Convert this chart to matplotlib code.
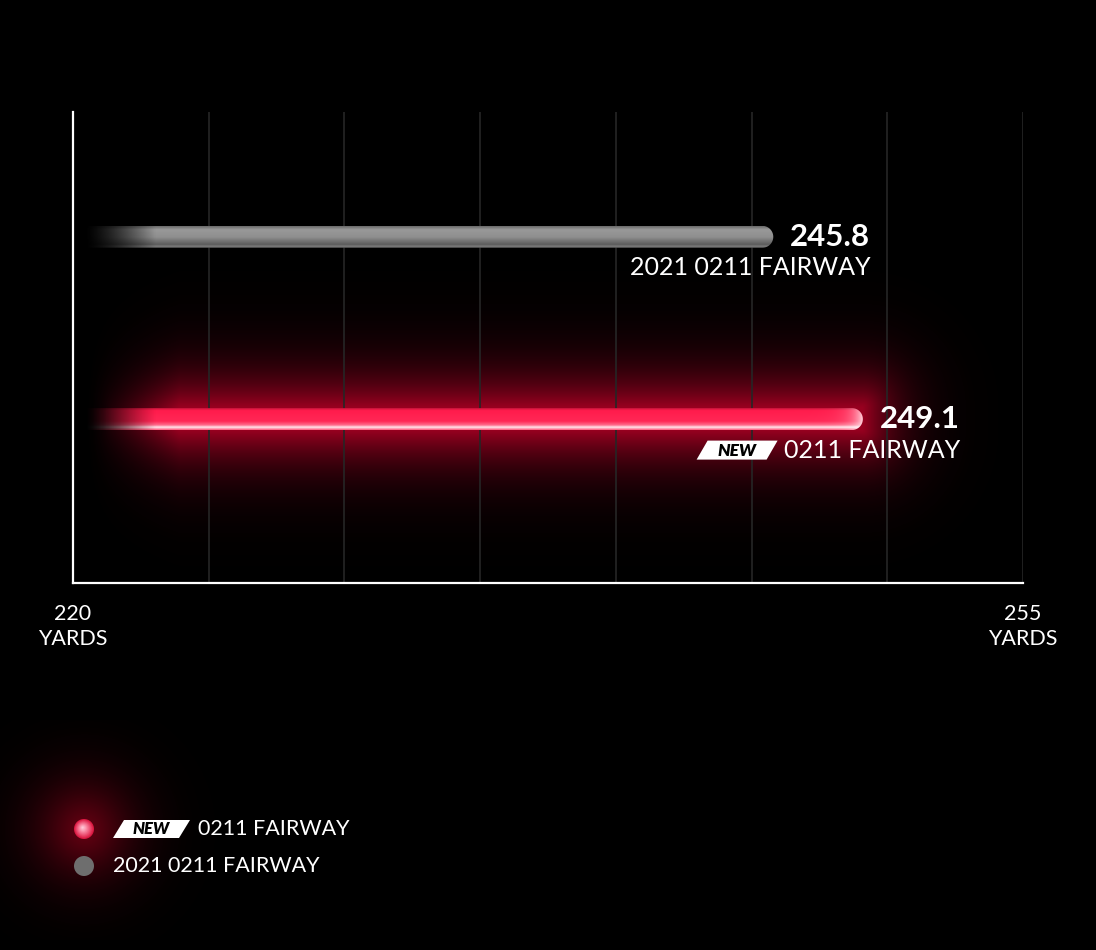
import numpy as np
import matplotlib
matplotlib.use('Agg')
import matplotlib.pyplot as plt
from matplotlib.path import Path
from matplotlib.patches import PathPatch, Polygon, Circle

plt.rcParams['font.family'] = ['Lato', 'DejaVu Sans']

# data
names = ['2021 0211 FAIRWAY', '0211 FAIRWAY']
is_new = [False, True]
values = [245.8, 249.1]
value_labels = ['245.8', '249.1']
x_min, x_max = 220, 255
grid_ticks = [225, 230, 235, 240, 245, 250, 255]
end_ticks = [220, 255]
end_labels = ['220\nYARDS', '255\nYARDS']
rows = [0.735, 0.348]
bar_start = 220.4

W, H = 1096, 950
fig = plt.figure(figsize=(W / 100, H / 100), dpi=100, facecolor='black')

# background axes in pixel units (legend)
bg = fig.add_axes([0, 0, 1, 1], zorder=-1)
bg.set_xlim(0, W)
bg.set_ylim(H, 0)
bg.axis('off')
bg.set_facecolor('black')

ax = fig.add_axes([73 / W, 1 - 583 / H, 950 / W, 471 / H])
ax.set_facecolor('none')
ax.set_xlim(x_min, x_max)
ax.set_ylim(0, 1)

# overlay axes in pixel units (badges on top of the glow)
top = fig.add_axes([0, 0, 1, 1], zorder=10)
top.set_xlim(0, W)
top.set_ylim(H, 0)
top.axis('off')
top.patch.set_alpha(0)

px_x = ax.transData.transform((1, 0))[0] - ax.transData.transform((0, 0))[0]
px_y = ax.transData.transform((0, 1))[1] - ax.transData.transform((0, 0))[1]

for s in ['top', 'right']:
    ax.spines[s].set_visible(False)
for s in ['left', 'bottom']:
    ax.spines[s].set_color('white')
    ax.spines[s].set_linewidth(1.6)
    ax.spines[s].set_zorder(9)
ax.set_yticks([])
ax.set_xticks(end_ticks)
ax.set_xticklabels(end_labels, color='white', fontsize=15.5, linespacing=1.3)
ax.tick_params(axis='x', length=0, pad=15)
for x in grid_ticks:
    ax.axvline(x, color='#262626', lw=1.2, zorder=3)

red = np.array([1.0, 0.11, 0.30])


def bar_path(xe, yc, half_px=11):
    hy = half_px / px_y
    rx = half_px / px_x
    t = np.linspace(-np.pi / 2, np.pi / 2, 30)
    xs = np.concatenate([[bar_start, xe - rx], xe - rx + rx * np.cos(t), [bar_start]])
    ys = np.concatenate([[yc - hy, yc - hy], yc + hy * np.sin(t), [yc + hy]])
    verts = np.column_stack([xs, ys])
    return Path(np.vstack([verts, verts[:1]]), closed=True), hy


def draw_bar(xe, yc, new):
    path, hy = bar_path(xe, yc)
    patch = PathPatch(path, fc='none', ec='none', transform=ax.transData)
    ax.add_patch(patch)
    nx, ny = 500, 40
    xx = np.linspace(bar_start, xe, nx)
    v = np.linspace(0, 1, ny)[:, None]
    ramp = np.clip((xx - bar_start) / 2.6, 0, 1) ** 1.4
    img = np.zeros((ny, nx, 4))
    if new:
        prof_w = np.interp(v, [0, 0.12, 0.6, 0.78, 0.88, 1], [0.0, 0.0, 0.05, 0.35, 0.92, 0.3])
        dark = np.interp(v, [0, 0.1, 1], [0.8, 1.0, 1.0])
        col = red[None, None, :] * dark[..., None] * np.ones((1, nx, 1))
        col = col * (1 - prof_w[..., None]) + prof_w[..., None]
        cap = np.exp(-(xe - xx) / (10 / px_x))[None, :, None]
        col = col * (1 - 0.75 * cap) + 0.75 * cap
        img[..., :3] = col
    else:
        g = np.interp(v, [0, 0.15, 0.5, 0.85, 0.94, 1], [0.42, 0.6, 0.56, 0.36, 0.5, 0.33])
        img[..., :3] = g[..., None] * np.ones((1, nx, 1))
    img[..., 3] = ramp[None, :]
    im = ax.imshow(img, extent=[bar_start, xe, yc - hy, yc + hy], aspect='auto',
                   interpolation='bilinear', zorder=5)
    im.set_clip_path(patch)


def draw_glow(xe, yc):
    nx, ny = 600, 300
    gx = np.linspace(x_min, x_max, nx)
    gy = np.linspace(1, 0, ny)
    X, Y = np.meshgrid(gx, gy)
    dx = np.maximum(0, np.maximum(bar_start + 1 - X, X - xe)) * px_x
    dy = np.maximum(0, np.abs(Y - yc) * px_y - 11)
    d = np.hypot(dx, dy)
    a = 0.8 * np.exp(-(d / 36) ** 1.15)
    a *= np.clip((gx - bar_start) / 3.5, 0, 1)[None, :] ** 1.3
    img = np.zeros((ny, nx, 4))
    img[..., :3] = [0.75, 0.0, 0.16]
    img[..., 3] = a
    ax.imshow(img, extent=[x_min, x_max, 0, 1], aspect='auto',
              interpolation='bilinear', zorder=1)


def badge(axis, x_right, yc, w=81, h=19, slant=11, fs=12.5):
    x0 = x_right - w
    pts = [(x0, yc + h / 2), (x0 + slant, yc - h / 2), (x_right, yc - h / 2), (x_right - slant, yc + h / 2)]
    axis.add_patch(Polygon(pts, closed=True, fc='white', ec='none', zorder=6))
    axis.text(x0 + w / 2, yc + 0.5, 'NEW', ha='center', va='center', fontsize=fs,
              fontweight='heavy', style='italic', color='black', zorder=7)


renderer = fig.canvas.get_renderer()

for name, val, lab, new, yc in zip(names, values, value_labels, is_new, rows):
    if new:
        draw_glow(val, yc)
    draw_bar(val, yc, new)
    ax.annotate(lab, xy=(val, yc), xytext=(97, 0), textcoords='offset pixels',
                ha='right', va='center', fontsize=22.5, fontweight='bold', color='white', zorder=8)
    t = ax.annotate(name, xy=(val, yc), xytext=(97, -31), textcoords='offset pixels',
                    ha='right', va='center', fontsize=18, color='white', zorder=8)
    if new:
        bb = t.get_window_extent(renderer)
        badge(top, bb.x0 - 6, H - (bb.y0 + bb.y1) / 2)

ax.set_xlim(x_min, x_max)
ax.set_ylim(0, 1)

# legend
leg_y = [829, 866]
leg_x = 84
# glow around the red legend dot
gx, gy = np.meshgrid(np.arange(0, 260), np.arange(720, 940))
r = np.hypot(gx - leg_x, gy - leg_y[0])
gimg = np.zeros(gx.shape + (4,))
gimg[..., :3] = [0.55, 0.0, 0.1]
gimg[..., 3] = 0.7 * np.exp(-(r / 48) ** 1.5)
bg.imshow(gimg, extent=[0, 260, 940, 720], aspect='auto', interpolation='bilinear', zorder=1)
for k in range(10, 0, -1):
    f = k / 10
    c = red * (0.85 + 0.15 * (1 - f)) * f + (1 - f) * np.array([1, 0.85, 0.9])
    bg.add_patch(Circle((leg_x - 1.5 * (1 - f), leg_y[0] - 1.5 * (1 - f)), 10 * f, fc=c, ec='none', zorder=3))
bg.add_patch(Circle((leg_x, leg_y[1]), 10, fc='#6e6e6e', ec='none', zorder=3))

bg.text(198, leg_y[0], names[1], ha='left', va='center', fontsize=15.5, color='white')
badge(top, 190, leg_y[0], w=77, h=18, fs=12)
bg.text(113, leg_y[1], names[0], ha='left', va='center', fontsize=15.5, color='white')

fig.savefig('out.png', dpi=100, facecolor='black')
